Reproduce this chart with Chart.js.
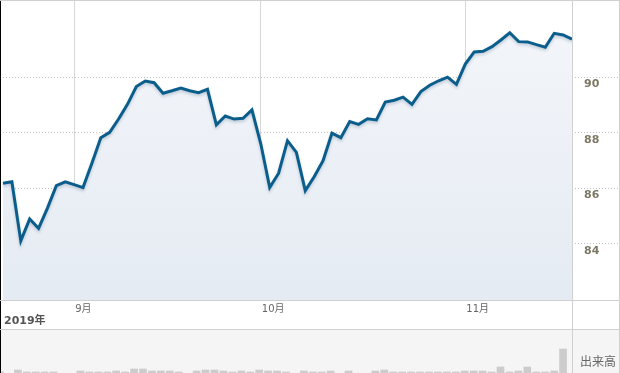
<!DOCTYPE html>
<html>
<head>
<meta charset="utf-8">
<script src="https://cdn.jsdelivr.net/npm/chart.js@4.4.0/dist/chart.umd.min.js"></script>
<style>
  html, body { margin: 0; padding: 0; background: #fff; overflow: hidden; }
  #main { position: absolute; left: 0; top: 0; width: 620px; height: 330px; }
  #vol { position: absolute; left: 0; top: 330px; width: 620px; height: 64px; background: #f5f5f5; }
</style>
</head>
<body>
<div id="main"><canvas id="priceChart"></canvas></div>
<div id="vol"><canvas id="volChart"></canvas></div>
<script>
// 日付 (営業日)
const dates = [
  '2019/08/21', '2019/08/22', '2019/08/23', '2019/08/26', '2019/08/27', '2019/08/28', '2019/08/29', '2019/08/30',
  '2019/09/02', '2019/09/03', '2019/09/04', '2019/09/05', '2019/09/06', '2019/09/09', '2019/09/10', '2019/09/11',
  '2019/09/12', '2019/09/13', '2019/09/16', '2019/09/17', '2019/09/18', '2019/09/19', '2019/09/20', '2019/09/23',
  '2019/09/24', '2019/09/25', '2019/09/26', '2019/09/27', '2019/09/30',
  '2019/10/01', '2019/10/02', '2019/10/03', '2019/10/04', '2019/10/07', '2019/10/08', '2019/10/09', '2019/10/10',
  '2019/10/11', '2019/10/14', '2019/10/15', '2019/10/16', '2019/10/17', '2019/10/18', '2019/10/21', '2019/10/22',
  '2019/10/23', '2019/10/24', '2019/10/25', '2019/10/28', '2019/10/29', '2019/10/30', '2019/10/31',
  '2019/11/01', '2019/11/04', '2019/11/05', '2019/11/06', '2019/11/07', '2019/11/08', '2019/11/11', '2019/11/12',
  '2019/11/13', '2019/11/14', '2019/11/15', '2019/11/18', '2019/11/19'
];

// 終値
const prices = [
  86.18, 86.23, 84.10, 84.89, 84.55, 85.28, 86.09, 86.23,
  86.13, 86.02, 86.90, 87.82, 88.01, 88.49, 89.02, 89.66,
  89.86, 89.80, 89.42, 89.51, 89.61, 89.51, 89.44, 89.56,
  88.28, 88.60, 88.49, 88.52, 88.82,
  87.59, 86.02, 86.54, 87.71, 87.29, 85.91, 86.41, 86.99,
  87.98, 87.82, 88.40, 88.30, 88.50, 88.46, 89.10, 89.17,
  89.28, 89.02, 89.48, 89.71, 89.87, 90.00, 89.74,
  90.47, 90.91, 90.93, 91.10, 91.34, 91.60, 91.28, 91.27,
  91.17, 91.08, 91.58, 91.52, 91.37
];

// 出来高
const volumes = [
  22, 18, 24, 22, 22, 22, 22, 18,
  18, 23, 22, 22, 22, 23, 22, 25,
  25, 23, 23, 23, 22, 18, 23, 24,
  24, 23, 22, 23, 22,
  24, 23, 23, 22, 18, 23, 22, 22,
  23, 18, 23, 18, 18, 23, 24, 22,
  22, 22, 22, 22, 22, 22, 22,
  23, 23, 23, 22, 27, 22, 23, 27,
  22, 22, 23, 45, 18
];

const yTicks = [84, 86, 88, 90];
const yearLabel = '2019年';
const volumeLabel = '出来高';

Chart.defaults.font.family = "'DejaVu Sans', 'Noto Sans CJK JP', sans-serif";
Chart.defaults.animation = false;

// 月の初日
const monthStarts = [0];
for (let i = 1; i < dates.length; i++) {
    if (dates[i].slice(5, 7) !== dates[i - 1].slice(5, 7)) monthStarts.push(i);
}

function tickText(value) {
    if (value === 0) return ['', yearLabel];
    return parseInt(dates[value].slice(5, 7)) + '月';
}

// 枠線など
const mainFrame = {
    id: 'mainFrame',
    beforeDatasetsDraw(chart) {
        const ctx = chart.ctx;
        ctx.save();
        ctx.fillStyle = '#000';
        ctx.fillRect(0, 0, 1, chart.height);
        ctx.restore();
    },
    afterDraw(chart) {
        const ctx = chart.ctx;
        const a = chart.chartArea;
        const w = chart.width, h = chart.height;
        ctx.save();
        ctx.strokeStyle = '#d0d0d0';
        ctx.lineWidth = 1;
        ctx.beginPath();
        ctx.moveTo(0, 0.5); ctx.lineTo(w, 0.5);
        ctx.moveTo(0, a.bottom + 0.5); ctx.lineTo(w, a.bottom + 0.5);
        ctx.moveTo(0, h - 0.5); ctx.lineTo(w, h - 0.5);
        ctx.moveTo(a.right + 0.5, 0); ctx.lineTo(a.right + 0.5, h);
        ctx.moveTo(w - 0.5, 0); ctx.lineTo(w - 0.5, h);
        ctx.stroke();
        ctx.restore();
    }
};

const lineShadow = {
    id: 'lineShadow',
    beforeDatasetDraw(chart) {
        const ctx = chart.ctx;
        ctx.save();
        ctx.shadowColor = 'rgba(20, 60, 100, 0.22)';
        ctx.shadowBlur = 3;
        ctx.shadowOffsetY = 2;
    },
    afterDatasetDraw(chart) {
        chart.ctx.restore();
    }
};

new Chart(document.getElementById('priceChart'), {
    type: 'line',
    data: {
        labels: dates,
        datasets: [{
            data: prices,
            borderColor: '#0b5e8b',
            borderWidth: 3,
            pointRadius: 0,
            tension: 0,
            fill: 'start',
            backgroundColor: (c) => {
                const a = c.chart.chartArea;
                if (!a) return '#eaeff6';
                const g = c.chart.ctx.createLinearGradient(0, a.top, 0, a.bottom);
                g.addColorStop(0, '#f4f6fa');
                g.addColorStop(1, '#e5ebf3');
                return g;
            }
        }]
    },
    options: {
        responsive: true,
        maintainAspectRatio: false,
        layout: { padding: 0 },
        plugins: { legend: { display: false }, tooltip: { enabled: false } },
        scales: {
            x: {
                type: 'category',
                offset: false,
                afterBuildTicks: (axis) => {
                    axis.ticks = monthStarts.map(v => ({ value: v }));
                },
                afterFit: (axis) => { axis.height = 30; },
                border: { display: false },
                grid: {
                    drawTicks: false,
                    color: (c) => (c.tick && c.tick.value === 0) ? 'rgba(0,0,0,0)' : '#d6d6d6'
                },
                ticks: {
                    autoSkip: false,
                    maxRotation: 0,
                    align: 'start',
                    labelOffset: 1,
                    padding: 3,
                    color: (c) => (c.tick && c.tick.value === 0) ? '#555' : '#666',
                    font: (c) => (c.tick && c.tick.value === 0)
                        ? { size: 11, weight: 'bold', lineHeight: 1.09 }
                        : { size: 10, lineHeight: 1.2 },
                    callback: (value) => tickText(value)
                }
            },
            y: {
                position: 'right',
                min: 81.97,
                max: 92.78,
                afterBuildTicks: (axis) => {
                    axis.ticks = yTicks.map(v => ({ value: v }));
                },
                afterFit: (axis) => { axis.width = 48; },
                border: { display: false, dash: [1, 2] },
                grid: {
                    color: '#c2c2c2',
                    tickColor: '#c2c2c2',
                    tickLength: 48,
                    tickBorderDash: [1, 2]
                },
                ticks: {
                    padding: -36,
                    labelOffset: 7,
                    color: '#7d7864',
                    font: { size: 11, weight: 'bold' }
                }
            }
        }
    },
    plugins: [mainFrame, lineShadow]
});

const volFrame = {
    id: 'volFrame',
    afterDraw(chart) {
        const ctx = chart.ctx;
        const a = chart.chartArea;
        const w = chart.width, h = chart.height;
        ctx.save();
        ctx.fillStyle = '#000';
        ctx.fillRect(0, 0, 1, h);
        ctx.strokeStyle = '#d0d0d0';
        ctx.lineWidth = 1;
        ctx.beginPath();
        ctx.moveTo(a.right + 0.5, 0); ctx.lineTo(a.right + 0.5, h);
        ctx.moveTo(w - 0.5, 0); ctx.lineTo(w - 0.5, h);
        ctx.stroke();
        ctx.fillStyle = '#666';
        ctx.font = "12px 'Noto Sans CJK JP', sans-serif";
        ctx.textAlign = 'left';
        ctx.textBaseline = 'middle';
        ctx.fillText(volumeLabel, a.right + 8, 31);
        ctx.restore();
    }
};

new Chart(document.getElementById('volChart'), {
    type: 'bar',
    data: {
        labels: dates,
        datasets: [{
            data: volumes,
            backgroundColor: '#cccccc',
            borderWidth: 0,
            barThickness: 7
        }]
    },
    options: {
        responsive: true,
        maintainAspectRatio: false,
        layout: { padding: 0 },
        plugins: { legend: { display: false }, tooltip: { enabled: false } },
        scales: {
            x: { type: 'category', offset: false, display: false },
            y: {
                position: 'right',
                min: 0,
                max: 64,
                afterFit: (axis) => { axis.width = 48; },
                border: { display: false },
                grid: { display: false },
                ticks: { display: false }
            }
        }
    },
    plugins: [volFrame]
});
</script>
</body>
</html>
